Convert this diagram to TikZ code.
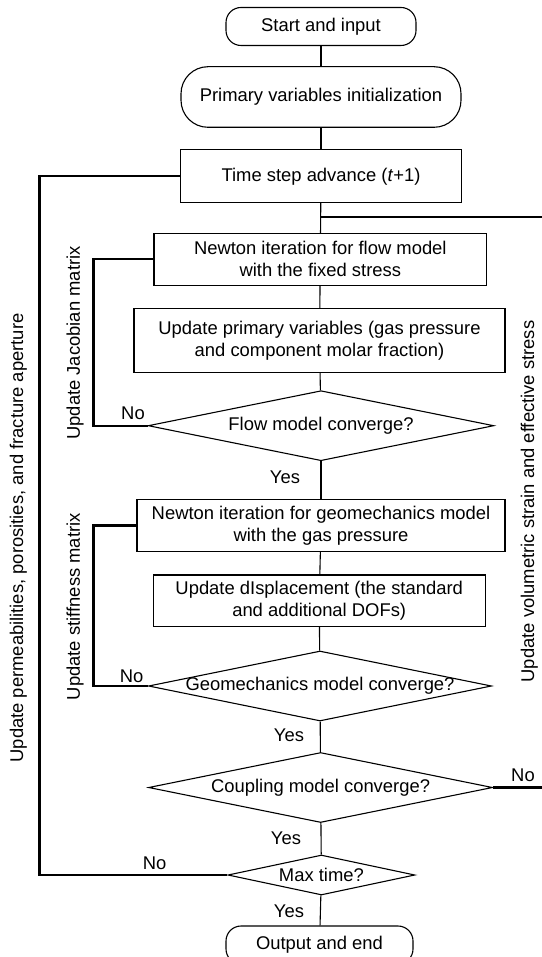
\documentclass[tikz,border=0pt]{standalone}
\usepackage{fontspec}
\setmainfont{Liberation Sans}
\usetikzlibrary{shapes.geometric,positioning}
\newcommand{\fcfont}{\fontsize{18.4}{22}\selectfont}
\tikzset{
  fcbox/.style={draw, line width=1.1pt, fill=white, inner sep=0pt, align=center,
                font=\fcfont},
  fcterm/.style={fcbox, rounded corners=15pt},
  fcdecide/.style={fcbox, diamond},
  fcline/.style={draw, line width=1.1pt},
  fcloop/.style={draw, line width=2.4pt},
  fclabel/.style={inner sep=0pt, font=\fcfont},
  fcside/.style={fclabel, rotate=90},
}

\begin{document}
\begin{tikzpicture}[x=1pt, y=-1pt]
  \useasboundingbox (0,0) rectangle (541,957);
  % main column
  \node[fcterm, minimum width=190pt, minimum height=38pt] (start) at (321,26.5) {Start and input};
  \node[fcterm, rounded corners=27pt, minimum width=280pt, minimum height=60.6pt] (init) at (321,97)
       {Primary variables initialization};
  \node[fcbox, minimum width=280.5pt, minimum height=52.7pt] (tstep) at (321,176.3)
       {Time step advance (\textit{t}+1)};
  \node[fcbox, minimum width=332.7pt, minimum height=51.7pt] (newflow) at (320.3,259.2)
       {Newton iteration for flow model\\with the fixed stress};
  \node[fcbox, minimum width=371pt, minimum height=64.3pt] (updprim) at (319.5,340.5)
       {Update primary variables (gas pressure\\and component molar fraction)};
  \node[fcdecide, minimum width=345.7pt, minimum height=70pt] (flowconv) at (321,425.7)
       {\makebox[0pt]{Flow model converge?}};
  \node[fcbox, minimum width=368pt, minimum height=52.3pt] (newgeo) at (321,525.5)
       {Newton iteration for geomechanics model\\with the gas pressure};
  \node[fcbox, minimum width=331.7pt, minimum height=51.7pt] (upddisp) at (319.2,600.8)
       {Update dIsplacement (the standard\\and additional DOFs)};
  \node[fcdecide, minimum width=343pt, minimum height=70pt] (geoconv) at (320,686)
       {\makebox[0pt]{Geomechanics model converge?}};
  \node[fcdecide, minimum width=344pt, minimum height=70pt] (coupconv) at (320.6,787.5)
       {\makebox[0pt]{Coupling model converge?}};
  \node[fcdecide, minimum width=187pt, minimum height=40pt] (maxtime) at (321.4,875)
       {\makebox[0pt]{Max time?}};
  \node[fcterm, minimum width=187pt, minimum height=38pt] (outend) at (319.5,945) {Output and end};

  % straight connectors
  \draw[fcline] (start)--(init); \draw[fcline] (init)--(tstep); \draw[fcline] (tstep)--(newflow);
  \draw[fcline] (newflow)--(updprim); \draw[fcline] (updprim)--(flowconv);
  \draw[fcline] (flowconv)--(newgeo); \draw[fcline] (newgeo)--(upddisp);
  \draw[fcline] (upddisp)--(geoconv); \draw[fcline] (geoconv)--(coupconv);
  \draw[fcline] (coupconv)--(maxtime); \draw[fcline] (maxtime)--(outend);

  % feedback loops
  \coordinate (outerbar) at (39.5,0);
  \coordinate (innerbar) at (93.5,0);
  \coordinate (rightbar) at (546,0);
  \coordinate (junc) at (321,217);
  \draw[fcloop] (maxtime.west) -- (maxtime.west -| outerbar) |- (tstep.west);
  \draw[fcloop] (flowconv.west) -- (flowconv.west -| innerbar) |- (newflow.west);
  \draw[fcloop] (geoconv.west) -- (geoconv.west -| innerbar) |- (newgeo.west);
  \draw[fcloop] (coupconv.east) -- (coupconv.east -| rightbar) |- (junc);

  % branch labels
  \node[fclabel] (noflow) at (133,413.3) {No};
  \node[fclabel] (nogeo) at (131.7,676.7) {No};
  \node[fclabel] (nocoup) at (523,775.5) {No};
  \node[fclabel] (nomax) at (154.6,863.3) {No};
  \node[fclabel] (yesflow) at (285,477.3) {Yes};
  \node[fclabel] (yesgeo) at (289,735) {Yes};
  \node[fclabel] (yescoup) at (286,838.3) {Yes};
  \node[fclabel] (yesmax) at (289,911) {Yes};

  % loop captions
  \node[fcside] (capjac) at (75,343) {Update Jacobian matrix};
  \node[fcside] (capstiff) at (75,606.7) {Update stiffness matrix};
  \node[fcside] (capouter) at (18.3,538) {Update permeabilities, porosities, and fracture aperture};
  \node[fcside] (capright) at (529.3,501.5) {Update volumetric strain and effective stress};
\end{tikzpicture}
\end{document}
